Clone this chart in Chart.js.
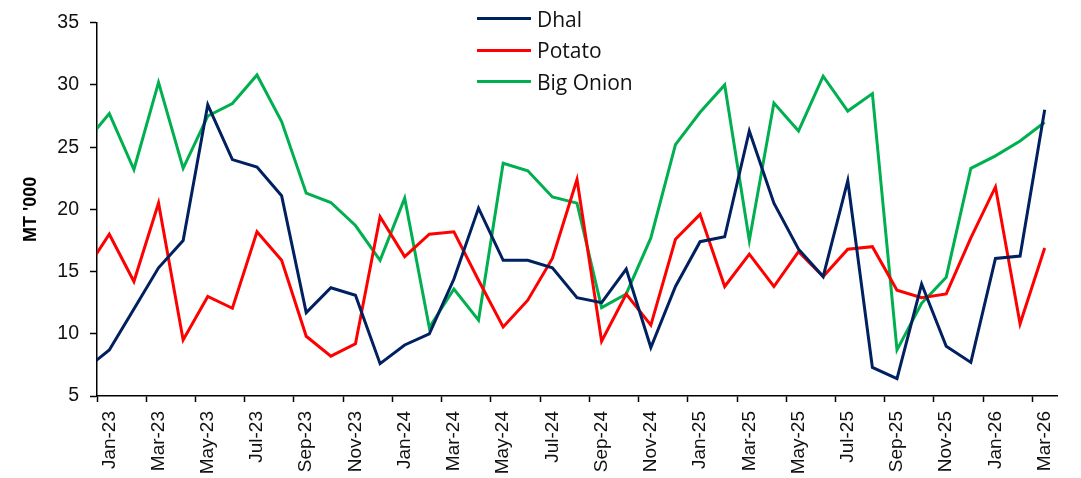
<!DOCTYPE html>
<html>
<head>
<meta charset="utf-8">
<script src="https://cdn.jsdelivr.net/npm/chart.js@4.4.1/dist/chart.umd.min.js"></script>
<style>
    body { margin: 0; background: #fff; }
    #wrap { position: relative; width: 1081px; height: 478px; }
    #legend { position: absolute; left: 477px; top: 3px; font-family: "Open Sans", sans-serif; font-size: 21px; color: #111; }
    #legend .row { display: flex; align-items: center; height: 31.5px; }
    #legend .swatch { width: 54px; height: 3px; margin-right: 6px; }
</style>
</head>
<body>
<div id="wrap">
    <canvas id="chart" width="1081" height="478"></canvas>
    <div id="legend"></div>
</div>
<script>
// Dec-22 is only there so the line enters from the left edge, like the original
const months = [
    'Dec-22',
    'Jan-23', 'Feb-23', 'Mar-23', 'Apr-23', 'May-23', 'Jun-23', 'Jul-23', 'Aug-23', 'Sep-23', 'Oct-23', 'Nov-23', 'Dec-23',
    'Jan-24', 'Feb-24', 'Mar-24', 'Apr-24', 'May-24', 'Jun-24', 'Jul-24', 'Aug-24', 'Sep-24', 'Oct-24', 'Nov-24', 'Dec-24',
    'Jan-25', 'Feb-25', 'Mar-25', 'Apr-25', 'May-25', 'Jun-25', 'Jul-25', 'Aug-25', 'Sep-25', 'Oct-25', 'Nov-25', 'Dec-25',
    'Jan-26', 'Feb-26', 'Mar-26'
];

const dhal = [
    7.1,
    8.7, 12.0, 15.3, 17.5, 28.4, 24.0, 23.4, 21.1, 11.7, 13.7, 13.1, 7.6,
    9.1, 10.0, 14.4, 20.1, 15.9, 15.9, 15.3, 12.9, 12.5, 15.2, 8.9, 13.8,
    17.4, 17.8, 26.3, 20.5, 16.8, 14.6, 22.3, 7.3, 6.4, 14.0, 9.0, 7.7,
    16.05, 16.25, 28.0
];

const potato = [
    15.0,
    18.0, 14.2, 20.5, 9.5, 13.0, 12.05, 18.2, 15.9, 9.8, 8.2, 9.2, 19.4,
    16.2, 18.0, 18.2, 14.3, 10.55, 12.7, 16.05, 22.4, 9.4, 13.2, 10.7, 17.6,
    19.6, 13.8, 16.4, 13.8, 16.6, 14.6, 16.8, 17.0, 13.5, 12.9, 13.2, 17.7,
    21.8, 10.8, 16.9
];

const bigOnion = [
    25.3,
    27.7, 23.2, 30.2, 23.3, 27.5, 28.5, 30.8, 27.05, 21.3, 20.55, 18.7, 15.9,
    20.9, 10.5, 13.6, 11.1, 23.7, 23.1, 21.0, 20.5, 12.1, 13.2, 17.7, 25.2,
    27.8, 30.0, 17.5, 28.55, 26.3, 30.7, 27.9, 29.3, 8.7, 12.45, 14.55, 23.3,
    24.3, 25.5, 27.0
];

const yTicks = [5, 10, 15, 20, 25, 30, 35];

const series = [
    { label: 'Dhal', data: dhal, color: '#002060' },
    { label: 'Potato', data: potato, color: '#FF0000' },
    { label: 'Big Onion', data: bigOnion, color: '#00B050' }
];

const fontFamily = '"Liberation Sans", Arial, sans-serif';

new Chart(document.getElementById('chart'), {
    type: 'line',
    data: {
        labels: months,
        datasets: series.map(s => ({
            label: s.label,
            data: s.data,
            borderColor: s.color,
            backgroundColor: s.color,
            borderWidth: 3,
            pointRadius: 0,
            tension: 0
        }))
    },
    options: {
        responsive: false,
        animation: false,
        layout: { padding: { left: 0, top: 16, right: 24, bottom: 0 } },
        plugins: {
            legend: { display: false },
            tooltip: { enabled: false }
        },
        scales: {
            x: {
                min: 'Jan-23',
                offset: true,
                grid: {
                    offset: true,
                    drawOnChartArea: false,
                    drawTicks: true,
                    tickLength: 6,
                    tickColor: ctx => (ctx.index !== undefined && ctx.index % 2 === 0) ? '#000' : 'rgba(0,0,0,0)',
                    tickWidth: 1.5
                },
                border: { color: '#000', width: 1.5 },
                ticks: {
                    autoSkip: false,
                    minRotation: 90,
                    maxRotation: 90,
                    padding: 9,
                    color: '#111',
                    font: { family: fontFamily, size: 19 },
                    callback: function (value, index) {
                        return index % 2 === 0 ? this.getLabelForValue(value) : '';
                    }
                },
                afterFit: scale => { scale.height = 82; }
            },
            y: {
                min: 5,
                max: 35,
                afterBuildTicks: scale => { scale.ticks = yTicks.map(v => ({ value: v })); },
                grid: {
                    drawOnChartArea: false,
                    drawTicks: true,
                    tickLength: 7,
                    tickColor: '#000',
                    tickWidth: 1.5
                },
                border: { color: '#000', width: 1.5 },
                ticks: { padding: 11, color: '#111', font: { family: fontFamily, size: 19.5 } },
                title: {
                    display: true,
                    text: "MT '000",
                    color: '#000',
                    font: { family: fontFamily, size: 18, weight: 'bold' },
                    padding: { top: 20, bottom: 0 }
                },
                afterFit: scale => { scale.width = 97; }
            }
        }
    }
});

// legend stacked in the upper middle of the plot, as in the original
document.getElementById('legend').innerHTML = series.map(s => `
    <div class="row"><span class="swatch" style="background:${s.color}"></span><span>${s.label}</span></div>
`).join('');
</script>
</body>
</html>
